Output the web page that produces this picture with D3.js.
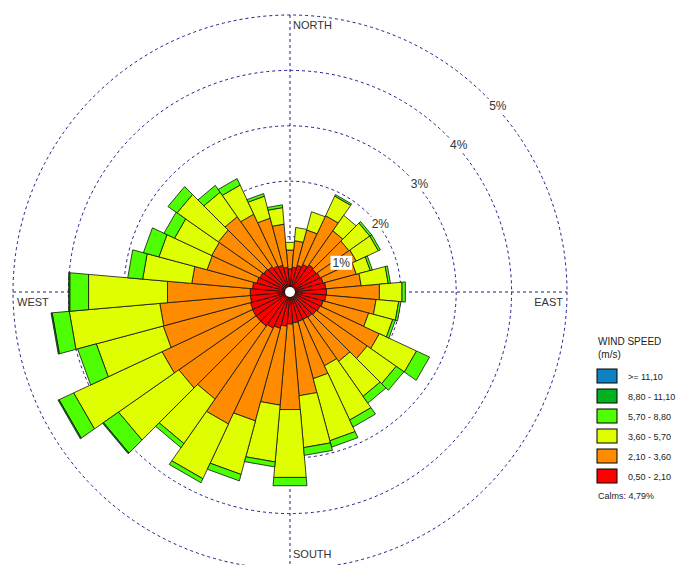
<!DOCTYPE html>
<html>
<head>
<meta charset="utf-8">
<script src="https://cdn.jsdelivr.net/npm/d3@7"></script>
<style>
  html, body { margin: 0; padding: 0; background: #fff; }
  svg { display: block; font-family: "Liberation Sans", Arial, sans-serif; }
</style>
</head>
<body>
<svg id="chart" width="684" height="565"></svg>
<script>
// wind directions (deg, blowing from)
const dirs = [0, 10, 20, 30, 40, 50, 60, 70, 80, 90, 100, 110, 120, 130, 140, 150, 160, 170,
              180, 190, 200, 210, 220, 230, 240, 250, 260, 270, 280, 290, 300, 310, 320, 330, 340, 350];

// frequency (%) per speed class and direction
const spd050_210 = [0.42, 0.45, 0.50, 0.55, 0.60, 0.58, 0.60, 0.62, 0.65, 0.66, 0.65, 0.62, 0.60, 0.58, 0.56, 0.55, 0.55, 0.56,
                    0.58, 0.62, 0.68, 0.72, 0.75, 0.75, 0.75, 0.74, 0.72, 0.72, 0.68, 0.62, 0.60, 0.58, 0.56, 0.52, 0.50, 0.45];
const spd210_360 = [0.34, 0.48, 0.66, 0.97, 0.75, 0.72, 0.72, 0.62, 0.64, 0.96, 0.91, 0.85, 1.18, 1.12, 0.97, 0.92, 1.07, 1.32,
                    1.55, 1.43, 1.73, 1.91, 1.61, 1.70, 1.80, 1.63, 1.64, 1.50, 1.10, 0.93, 0.96, 1.00, 1.10, 1.03, 0.88, 0.78];
const spd360_570 = [0.14, 0.24, 0.34, 0.39, 0.34, 0.46, 0.44, 0.26, 0.49, 0.41, 0.41, 0.45, 0.74, 0.64, 0.77, 1.08, 1.16, 0.94,
                    1.23, 1.03, 1.00, 1.09, 0.98, 1.33, 1.76, 1.25, 1.64, 1.43, 0.89, 0.90, 0.74, 0.91, 0.54, 0.58, 0.41, 0.30];
const spd570_880 = [0.00, 0.00, 0.00, 0.03, 0.00, 0.04, 0.04, 0.04, 0.04, 0.06, 0.04, 0.05, 0.26, 0.17, 0.15, 0.14, 0.12, 0.14,
                    0.15, 0.09, 0.12, 0.08, 0.09, 0.33, 0.29, 0.35, 0.31, 0.34, 0.27, 0.29, 0.21, 0.20, 0.15, 0.13, 0.05, 0.05];
const spd880_1110 = [0, 0, 0, 0, 0, 0, 0, 0, 0, 0, 0, 0, 0, 0, 0, 0, 0, 0,
                     0, 0, 0, 0, 0, 0.02, 0.02, 0, 0.02, 0.02, 0, 0, 0, 0, 0, 0, 0, 0];
const spd1110 = [0, 0, 0, 0, 0, 0, 0, 0, 0, 0, 0, 0, 0, 0, 0, 0, 0, 0,
                 0, 0, 0, 0, 0, 0, 0, 0, 0, 0, 0, 0, 0, 0, 0, 0, 0, 0];

const classKeys = ["c1", "c2", "c3", "c4", "c5", "c6"];
const classLabels = ["0,50 - 2,10", "2,10 - 3,60", "3,60 - 5,70", "5,70 - 8,80", "8,80 - 11,10", ">= 11,10"];
const classColors = ["#ff0000", "#ff8c00", "#dfff00", "#4dff00", "#00b31e", "#0f80c0"];
const ringTicks = [1, 2, 3, 4, 5];
const calms = "4,79%";

const svg = d3.select("#chart");
const cx = 290, cy = 292;

const r = d3.scaleLinear().domain([0, 5]).range([0, 277]);
const ang = d3.scaleBand().domain(dirs).range([-Math.PI / 36, 2 * Math.PI - Math.PI / 36]);
const color = d3.scaleOrdinal().domain(classKeys).range(classColors);
const pt = (a, v) => [cx + r(v) * Math.sin(a), cy - r(v) * Math.cos(a)];

// grid
const gGrid = svg.append("g").attr("fill", "none").attr("stroke", "#1c1c8a")
  .attr("stroke-width", 1).attr("stroke-dasharray", "3,3");
gGrid.selectAll("circle").data(ringTicks).join("circle")
  .attr("cx", cx).attr("cy", cy).attr("r", (d) => r(d));
gGrid.append("line").attr("x1", cx).attr("x2", cx).attr("y1", cy - r(5)).attr("y2", cy + r(5));
gGrid.append("line").attr("y1", cy).attr("y2", cy).attr("x1", cx - r(5)).attr("x2", cx + r(5));

// petals
const rows = dirs.map((d, i) => ({
  dir: d, c1: spd050_210[i], c2: spd210_360[i], c3: spd360_570[i],
  c4: spd570_880[i], c5: spd880_1110[i], c6: spd1110[i]
}));
const series = d3.stack().keys(classKeys)(rows);
const line = d3.line().curve(d3.curveLinearClosed);

const gBars = svg.append("g").attr("stroke", "#111").attr("stroke-width", 0.8).attr("stroke-linejoin", "miter");
series.forEach((s) => {
  gBars.append("g").attr("fill", color(s.key))
    .selectAll("path").data(s.filter((seg) => seg[1] - seg[0] > 0)).join("path")
    .attr("d", (seg) => {
      const a0 = ang(seg.data.dir), a1 = a0 + ang.bandwidth();
      return line([pt(a0, seg[0]), pt(a0, seg[1]), pt(a1, seg[1]), pt(a1, seg[0])]);
    });
});

svg.append("circle").attr("cx", cx).attr("cy", cy).attr("r", 5).attr("fill", "#fff");

// ring labels
const gLab = svg.append("g").attr("font-size", 12).attr("fill", "#333");
ringTicks.forEach((t) => {
  const p = pt(Math.PI / 4, t);
  const g = gLab.append("g");
  const txt = g.append("text").attr("x", p[0] + 12).attr("y", p[1] + 14)
    .attr("text-anchor", "middle").text(t + "%");
  const b = txt.node().getBBox();
  g.insert("rect", "text").attr("x", b.x - 2).attr("y", b.y).attr("width", b.width + 4)
    .attr("height", b.height).attr("fill", "#fff");
});

// compass labels
const gDir = svg.append("g").attr("font-size", 11).attr("fill", "#333");
gDir.append("text").attr("x", cx + 3).attr("y", cy - r(5) + 14).text("NORTH");
gDir.append("text").attr("x", cx + 3).attr("y", cy + r(5) - 11).text("SOUTH");
gDir.append("text").attr("x", cx - r(5) + 4).attr("y", cy + 14).text("WEST");
gDir.append("text").attr("x", cx + r(5) - 4).attr("y", cy + 14).attr("text-anchor", "end").text("EAST");

// legend
const lg = svg.append("g").attr("transform", "translate(597,0)").attr("fill", "#222");
lg.append("text").attr("x", 1).attr("y", 345).attr("font-size", 10).text("WIND SPEED");
lg.append("text").attr("x", 1).attr("y", 358).attr("font-size", 10).text("(m/s)");
const order = classKeys.slice().reverse();
const li = lg.selectAll("g.item").data(order).join("g").attr("class", "item")
  .attr("transform", (d, i) => `translate(0,${369 + i * 20})`);
li.append("rect").attr("width", 20).attr("height", 14)
  .attr("fill", (d) => color(d)).attr("stroke", "#000").attr("stroke-width", 1);
li.append("text").attr("x", 31).attr("y", 10.5).attr("font-size", 9)
  .text((d) => classLabels[classKeys.indexOf(d)]);
lg.append("text").attr("x", 1).attr("y", 499).attr("font-size", 9).text("Calms: " + calms);
</script>
</body>
</html>
